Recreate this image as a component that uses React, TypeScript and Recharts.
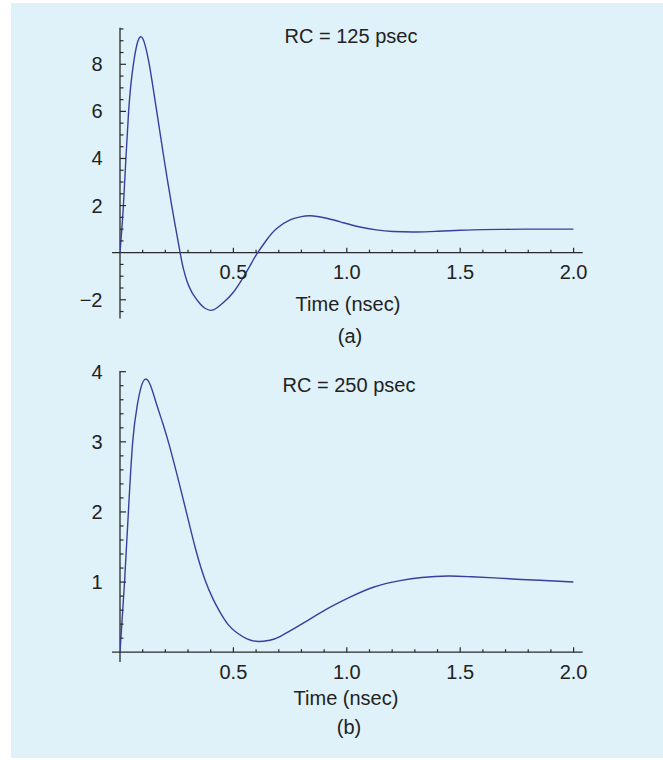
import { LineChart, Line, XAxis, YAxis, ReferenceLine, ReferenceDot } from 'recharts';

// (a) RC = 125 psec
const timeA = [0, 0.008, 0.015, 0.026, 0.038, 0.048, 0.059, 0.075, 0.091, 0.108, 0.129, 0.145, 0.162, 0.194, 0.228, 0.265, 0.28, 0.295, 0.31, 0.323, 0.353, 0.375, 0.4, 0.425, 0.456, 0.5, 0.544, 0.581, 0.603, 0.647, 0.691, 0.75, 0.795, 0.838, 0.911, 0.985, 1.058, 1.13, 1.205, 1.308, 1.4, 1.5, 1.6, 1.7, 1.8, 1.9, 2.0];
const voltA = [0, 1.0, 2.0, 4.0, 6.0, 7.15, 8.0, 8.85, 9.17, 8.9, 8.0, 7.05, 6.0, 4.0, 2.0, 0, -0.7, -1.2, -1.55, -1.78, -2.17, -2.36, -2.45, -2.36, -2.12, -1.68, -1.04, -0.42, -0.06, 0.55, 1.03, 1.39, 1.52, 1.57, 1.46, 1.27, 1.09, 0.97, 0.9, 0.88, 0.91, 0.95, 0.98, 0.99, 1.0, 1.0, 1.0];

// (b) RC = 250 psec
const timeB = [0, 0.009, 0.02, 0.037, 0.056, 0.075, 0.092, 0.112, 0.135, 0.16, 0.19, 0.22, 0.257, 0.294, 0.335, 0.375, 0.41, 0.441, 0.475, 0.514, 0.56, 0.61, 0.66, 0.705, 0.808, 0.911, 1.014, 1.12, 1.235, 1.33, 1.447, 1.55, 1.65, 1.75, 1.85, 2.0];
const voltB = [0, 0.45, 1.0, 2.0, 3.0, 3.5, 3.77, 3.895, 3.8, 3.55, 3.25, 2.92, 2.46, 1.98, 1.45, 1.03, 0.76, 0.57, 0.4, 0.28, 0.19, 0.152, 0.17, 0.223, 0.413, 0.613, 0.784, 0.93, 1.02, 1.065, 1.086, 1.075, 1.06, 1.04, 1.025, 1.0];

const xTicks = [0.1, 0.2, 0.3, 0.4, 0.5, 0.6, 0.7, 0.8, 0.9, 1.0, 1.1, 1.2, 1.3, 1.4, 1.5, 1.6, 1.7, 1.8, 1.9, 2.0];
const xLabels = ['0.5', '1.0', '1.5', '2.0'];

const yTicksA = [-2.5, -2, -1.5, -1, -0.5, 0.5, 1, 1.5, 2, 2.5, 3, 3.5, 4, 4.5, 5, 5.5, 6, 6.5, 7, 7.5, 8, 8.5, 9, 9.5];
const yLabelsA = [-2, 2, 4, 6, 8];
const yTicksB = [0.2, 0.4, 0.6, 0.8, 1, 1.2, 1.4, 1.6, 1.8, 2, 2.2, 2.4, 2.6, 2.8, 3, 3.2, 3.4, 3.6, 3.8, 4];
const yLabelsB = [1, 2, 3, 4];

const AXIS = '#2a2a2a';
const CURVE = '#3a3e9e';
const FONT = '"Liberation Sans", Arial, Helvetica, sans-serif';
const TEXT = '#222';

const isMajor = (v: number, step: number) => Math.abs(v / step - Math.round(v / step)) < 1e-6;

const fmtY = (v: number) => (v < 0 ? '\u2212' + Math.abs(v) : String(v));

function Panel({ top, height, margin, time, volt, yDomain, yTicks, yLabels, yMajorStep }: any) {
  const data = time.map((t: number, i: number) => ({ t, v: volt[i] }));
  return (
    <div style={{ position: 'absolute', left: 0, top, width: 663, height }}>
      <LineChart width={663} height={height} data={data} margin={margin}>
        <XAxis type="number" dataKey="t" domain={[0, 2]} hide allowDataOverflow />
        <YAxis type="number" domain={yDomain} hide allowDataOverflow />
        <ReferenceLine x={0} stroke={AXIS} strokeWidth={1.3} />
        <ReferenceLine
          segment={[{ x: -0.035, y: 0 }, { x: 2.04, y: 0 }]}
          stroke={AXIS}
          strokeWidth={1.3}
          ifOverflow="visible"
        />
        {xTicks.map((t) => {
          const major = isMajor(t, 0.5);
          const label = major ? xLabels[Math.round(t / 0.5) - 1] : null;
          return (
            <ReferenceDot
              key={'x' + t}
              x={t}
              y={0}
              r={0}
              ifOverflow="visible"
              shape={(p: any) => (
                <g>
                  <line x1={p.cx} x2={p.cx} y1={p.cy} y2={p.cy - (major ? 5 : 3)} stroke={AXIS} strokeWidth={1.2} />
                  {label && (
                    <text x={p.cx} y={p.cy + 26.5} textAnchor="middle" fontFamily={FONT} fontSize={20} fill={TEXT}>
                      {label}
                    </text>
                  )}
                </g>
              )}
            />
          );
        })}
        {yTicks.map((v: number) => {
          const major = isMajor(v, yMajorStep);
          const label = yLabels.includes(v) ? fmtY(v) : null;
          return (
            <ReferenceDot
              key={'y' + v}
              x={0}
              y={v}
              r={0}
              ifOverflow="visible"
              shape={(p: any) => (
                <g>
                  <line x1={p.cx} x2={p.cx + (major ? 6 : 3.5)} y1={p.cy} y2={p.cy} stroke={AXIS} strokeWidth={1.2} />
                  {label && (
                    <text x={p.cx - 17.5} y={p.cy + 7} textAnchor="end" fontFamily={FONT} fontSize={20} fill={TEXT}>
                      {label}
                    </text>
                  )}
                </g>
              )}
            />
          );
        })}
        <Line
          type="natural"
          dataKey="v"
          stroke={CURVE}
          strokeWidth={1.4}
          dot={false}
          isAnimationActive={false}
        />
      </LineChart>
    </div>
  );
}

export default function App() {
  const txt = { fontFamily: FONT, fontSize: 20, fill: TEXT, textAnchor: 'middle' as const };
  return (
    <div style={{ position: 'absolute', left: 0, top: 0, width: 663, height: 760, background: '#fff', overflow: 'hidden' }}>
      <div style={{ position: 'absolute', left: 11, top: 3, width: 652, height: 755, background: '#dff1f9' }} />
      <Panel
        top={0}
        height={380}
        margin={{ top: 27.8, right: 89.4, bottom: 61.4, left: 120 }}
        time={timeA}
        volt={voltA}
        yDomain={[-2.8, 9.55]}
        yTicks={yTicksA}
        yLabels={yLabelsA}
        yMajorStep={2}
      />
      <Panel
        top={340}
        height={420}
        margin={{ top: 31, right: 89.4, bottom: 98, left: 120 }}
        time={timeB}
        volt={voltB}
        yDomain={[-0.14, 4.01]}
        yTicks={yTicksB}
        yLabels={yLabelsB}
        yMajorStep={1}
      />
      <svg width={663} height={760} style={{ position: 'absolute', left: 0, top: 0, pointerEvents: 'none' }}>
        <text x={351} y={43} {...txt}>RC = 125 psec</text>
        <text x={348} y={311} {...txt}>Time (nsec)</text>
        <text x={350} y={343} {...txt}>(a)</text>
        <text x={349} y={392} {...txt}>RC = 250 psec</text>
        <text x={346} y={705} {...txt}>Time (nsec)</text>
        <text x={349} y={734} {...txt}>(b)</text>
      </svg>
    </div>
  );
}
